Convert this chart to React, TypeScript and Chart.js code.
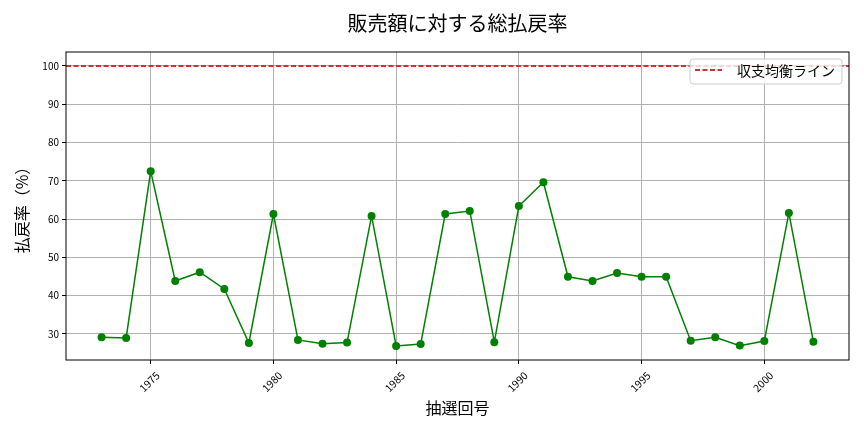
import { useEffect, useRef } from "react"
import { Chart, registerables } from "chart.js"

Chart.register(...registerables)

const FONT = '"Noto Sans CJK JP", "Noto Sans", sans-serif'

// 抽選回号 (x) and 払戻率 (y)
const drawYears = [
  1973, 1974, 1975, 1976, 1977, 1978, 1979, 1980, 1981, 1982, 1983, 1984, 1985,
  1986, 1987, 1988, 1989, 1990, 1991, 1992, 1993, 1994, 1995, 1996, 1997, 1998,
  1999, 2000, 2001, 2002
]
const payoutRates = [
  29.1, 28.9, 72.5, 43.8, 46.1, 41.7, 27.6, 61.3, 28.4, 27.4, 27.7, 60.8, 26.8,
  27.3, 61.3, 62.1, 27.8, 63.4, 69.6, 44.9, 43.8, 45.9, 44.9, 44.9, 28.2, 29.1,
  26.9, 28.1, 61.6, 27.9
]
const breakEvenLevel = 100
const xTicks = [1975, 1980, 1985, 1990, 1995, 2000]
const yTicks = [30, 40, 50, 60, 70, 80, 90, 100]

const titleText = "販売額に対する総払戻率"
const xLabel = "抽選回号"
const yLabel = "払戻率（%）"
const legendLabel = "収支均衡ライン"

const GREEN = "#008000"
const RED = "#d32f2f"

// matplotlib-like 5% margins
const xSpan = drawYears[drawYears.length - 1] - drawYears[0]
const xMin = drawYears[0] - xSpan * 0.05
const xMax = drawYears[drawYears.length - 1] + xSpan * 0.05
const yLo = Math.min(...payoutRates)
const yHi = Math.max(breakEvenLevel, ...payoutRates)
const yMin = yLo - (yHi - yLo) * 0.05
const yMax = yHi + (yHi - yLo) * 0.05

const framePlugin = {
  id: "frame",
  afterDraw(chart: any) {
    const { ctx, chartArea } = chart
    const { left, right, top, bottom } = chartArea
    ctx.save()
    // spines
    ctx.strokeStyle = "#000"
    ctx.lineWidth = 1
    ctx.strokeRect(left, top, right - left, bottom - top)

    // title
    ctx.fillStyle = "#000"
    ctx.font = `20px ${FONT}`
    ctx.textAlign = "center"
    ctx.textBaseline = "middle"
    ctx.fillText(titleText, (left + right) / 2, 23)

    // legend
    ctx.font = `14px ${FONT}`
    const tw = ctx.measureText(legendLabel).width
    const bw = 47 + tw + 7
    const bh = 25
    const bx = right - 7 - bw
    const by = top + 7
    ctx.fillStyle = "rgba(255,255,255,0.8)"
    ctx.strokeStyle = "#cccccc"
    ctx.beginPath()
    ctx.roundRect(bx, by, bw, bh, 3)
    ctx.fill()
    ctx.stroke()
    ctx.strokeStyle = RED
    ctx.lineWidth = 2
    ctx.setLineDash([5, 2.5])
    ctx.beginPath()
    ctx.moveTo(bx + 5, by + 11)
    ctx.lineTo(bx + 32, by + 11)
    ctx.stroke()
    ctx.setLineDash([])
    ctx.fillStyle = "#000"
    ctx.textAlign = "left"
    ctx.fillText(legendLabel, bx + 47, by + 12)
    ctx.restore()
  }
}

const App = () => {
  const chartRef = useRef<HTMLCanvasElement>(null)

  useEffect(() => {
    if (!chartRef.current) return
    const ctx = chartRef.current.getContext("2d")
    if (!ctx) return

    const chart = new Chart(ctx, {
      type: "line",
      data: {
        datasets: [
          {
            label: legendLabel,
            data: [
              { x: xMin, y: breakEvenLevel },
              { x: xMax, y: breakEvenLevel }
            ],
            borderColor: RED,
            borderWidth: 2,
            borderDash: [5, 2.5],
            pointRadius: 0,
            order: 1
          },
          {
            label: "払戻率",
            data: drawYears.map((year, i) => ({ x: year, y: payoutRates[i] })),
            borderColor: GREEN,
            backgroundColor: GREEN,
            borderWidth: 1.5,
            pointRadius: 4,
            pointBorderWidth: 0,
            pointBackgroundColor: GREEN,
            order: 0
          }
        ]
      },
      options: {
        animation: false,
        responsive: false,
        layout: { padding: { left: 0, right: 15, top: 52, bottom: 0 } },
        plugins: {
          legend: { display: false },
          title: { display: false },
          tooltip: { enabled: false }
        },
        scales: {
          x: {
            type: "linear",
            min: xMin,
            max: xMax,
            afterBuildTicks: (scale: any) => {
              scale.ticks = xTicks.map((v) => ({ value: v }))
            },
            afterFit: (scale: any) => {
              scale.height = 72
            },
            ticks: {
              minRotation: 45,
              maxRotation: 45,
              padding: 5,
              labelOffset: 7,
              color: "#000",
              font: { family: FONT, size: 10.5 },
              callback: (v: any) => String(v)
            },
            grid: {
              color: "#b0b0b0",
              lineWidth: 1,
              tickColor: "#000",
              tickLength: 4
            },
            border: { display: false },
            title: {
              display: true,
              text: xLabel,
              color: "#000",
              font: { family: FONT, size: 16 },
              padding: { top: 0, bottom: 14 }
            }
          },
          y: {
            type: "linear",
            min: yMin,
            max: yMax,
            afterBuildTicks: (scale: any) => {
              scale.ticks = yTicks.map((v) => ({ value: v }))
            },
            afterFit: (scale: any) => {
              scale.width = 66
            },
            ticks: {
              padding: 3,
              color: "#000",
              font: { family: FONT, size: 10 },
              callback: (v: any) => String(v)
            },
            grid: {
              color: "#b0b0b0",
              lineWidth: 1,
              tickColor: "#000",
              tickLength: 4
            },
            border: { display: false },
            title: {
              display: true,
              text: yLabel,
              color: "#000",
              font: { family: FONT, size: 16 },
              padding: { top: 12, bottom: 0 }
            }
          }
        }
      },
      plugins: [framePlugin]
    })

    return () => {
      chart.destroy()
    }
  }, [])

  return (
    <div style={{ position: "absolute", left: 0, top: 0, width: 864, height: 432, background: "#fff" }}>
      <canvas ref={chartRef} width="864" height="432"></canvas>
    </div>
  )
}

export default App
